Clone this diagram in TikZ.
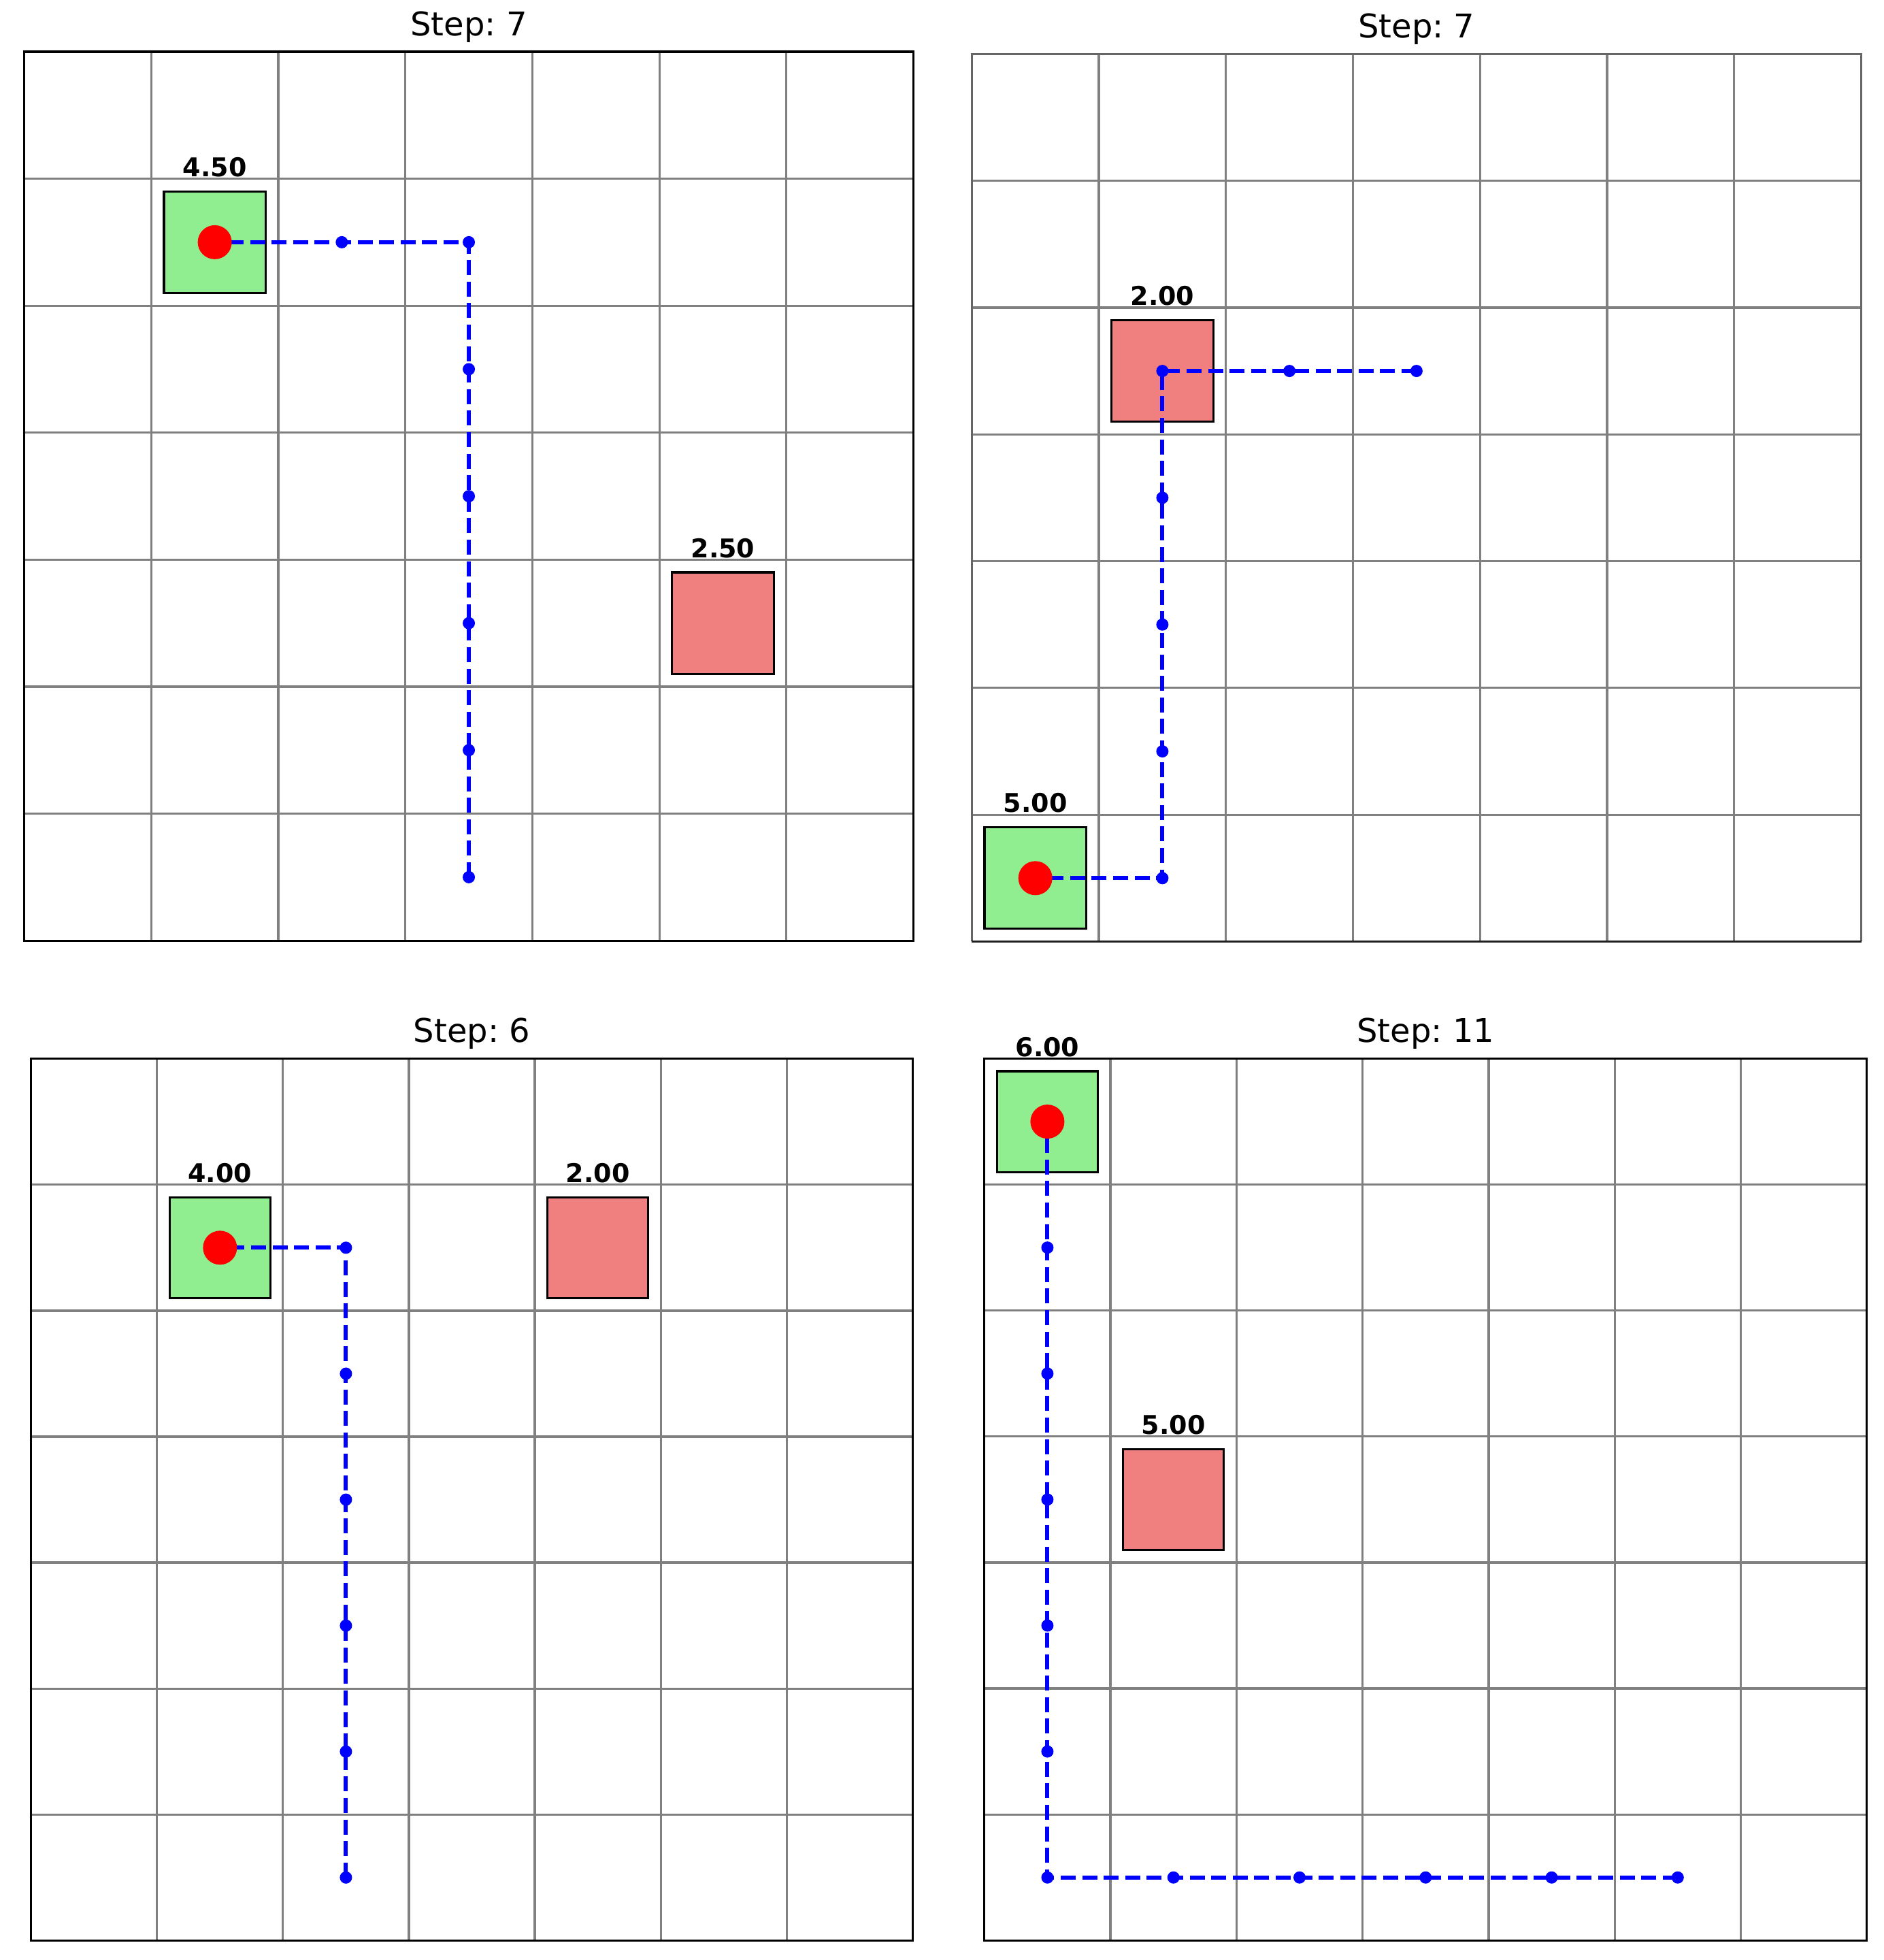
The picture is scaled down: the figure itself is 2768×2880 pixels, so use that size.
\documentclass[tikz,border=0pt]{standalone}
\usepackage{fontspec}
\setmainfont{DejaVu Sans}
\frenchspacing
\definecolor{lgreen}{HTML}{90EE90}
\definecolor{lcoral}{HTML}{F08080}
\definecolor{gridgray}{HTML}{808080}
\definecolor{framegray}{HTML}{666666}
\tikzset{
  gridline/.style={draw=gridgray, line width=3.2pt},
  frameline/.style={draw=black, line width=3.2pt},
  greenbox/.style={rectangle, fill=lgreen, draw=black, line width=3.2pt, inner sep=0pt, outer sep=0pt},
  redbox/.style={rectangle, fill=lcoral, draw=black, line width=3.2pt, inner sep=0pt, outer sep=0pt},
  agentdot/.style={circle, fill=red, minimum size=50pt, inner sep=0pt},
  visit/.style={circle, fill=blue, minimum size=18pt, inner sep=0pt},
  route/.style={draw=blue, line width=6pt, dash pattern=on 22pt off 9.6pt},
  steptitle/.style={font=\frenchspacing\fontsize{48}{58}\selectfont, inner sep=0pt, anchor=base},
  vallabel/.style={font=\bfseries\fontsize{38}{46}\selectfont, inner sep=0pt, anchor=base},
}
\begin{document}
\begin{tikzpicture}[x=1pt, y=-1pt]
\fill[white] (0,0) rectangle (2768,2880);
\useasboundingbox (0,0) rectangle (2768,2880);

% ---------------- Panel 1 (top left) ----------------
\begin{scope}[shift={(35.6,76)}, x=186.7pt, y=-186.6pt]
  \foreach \i in {1,...,6} {\draw[gridline] (\i,0) -- (\i,7); \draw[gridline] (0,\i) -- (7,\i);}
  \draw[frameline] (0,0) rectangle (7,7);
  \node[steptitle] (t1) at ([yshift=24pt]3.5,0) {Step: 7};
  \node[greenbox, minimum width=149.4pt, minimum height=149.3pt] (g1) at (1.5,1.5) {};
  \node[vallabel] (gl1) at ([yshift=22pt]g1.north) {4.50};
  \node[redbox, minimum width=149.4pt, minimum height=149.3pt] (r1) at (5.5,4.5) {};
  \node[vallabel] (rl1) at ([yshift=22pt]r1.north) {2.50};
  \node[visit] (a1v1) at (3.5,6.5) {};
  \node[visit] (a1v2) at (3.5,5.5) {};
  \node[visit] (a1v3) at (3.5,4.5) {};
  \node[visit] (a1v4) at (3.5,3.5) {};
  \node[visit] (a1v5) at (3.5,2.5) {};
  \node[visit] (a1v6) at (3.5,1.5) {};
  \node[visit] (a1v7) at (2.5,1.5) {};
  \draw[route] (a1v1.center) -- (a1v2.center) -- (a1v3.center) -- (a1v4.center) -- (a1v5.center) -- (a1v6.center) -- (a1v7.center) -- (g1.center);
  \node[agentdot] (ag1) at (g1.center) {};
\end{scope}

% ---------------- Panel 2 (top right) ----------------
\begin{scope}[shift={(1428.3,79.3)}, x=186.74pt, y=-186.31pt]
  \foreach \i in {1,...,6} {\draw[gridline] (\i,0) -- (\i,7); \draw[gridline] (0,\i) -- (7,\i);}
  \draw[frameline, draw=framegray] (0,7) -- (0,0) -- (7,0) -- (7,7);
  \draw[frameline, draw=black!88] (0,7) -- (7,7);
  \node[steptitle] (t2) at ([yshift=24pt]3.5,0) {Step: 7};
  \node[redbox, minimum width=149.4pt, minimum height=149.0pt] (r2) at (1.5,2.5) {};
  \node[vallabel] (rl2) at ([yshift=22pt]r2.north) {2.00};
  \node[greenbox, minimum width=149.4pt, minimum height=149.0pt] (g2) at (0.5,6.5) {};
  \node[vallabel] (gl2) at ([yshift=22pt]g2.north) {5.00};
  \node[visit] (a2v1) at (3.5,2.5) {};
  \node[visit] (a2v2) at (2.5,2.5) {};
  \node[visit] (a2v3) at (1.5,2.5) {};
  \node[visit] (a2v4) at (1.5,3.5) {};
  \node[visit] (a2v5) at (1.5,4.5) {};
  \node[visit] (a2v6) at (1.5,5.5) {};
  \node[visit] (a2v7) at (1.5,6.5) {};
  \draw[route] (a2v1.center) -- (a2v2.center) -- (a2v3.center) -- (a2v4.center) -- (a2v5.center) -- (a2v6.center) -- (a2v7.center) -- (g2.center);
  \node[agentdot] (ag2) at (g2.center) {};
\end{scope}

% ---------------- Panel 3 (bottom left) ----------------
\begin{scope}[shift={(45.7,1555.7)}, x=185.09pt, y=-185.09pt]
  \foreach \i in {1,...,6} {\draw[gridline] (\i,0) -- (\i,7); \draw[gridline] (0,\i) -- (7,\i);}
  \draw[frameline] (0,0) rectangle (7,7);
  \node[steptitle] (t3) at ([yshift=24pt]3.5,0) {Step: 6};
  \node[greenbox, minimum width=148.1pt, minimum height=148.1pt] (g3) at (1.5,1.5) {};
  \node[vallabel] (gl3) at ([yshift=22pt]g3.north) {4.00};
  \node[redbox, minimum width=148.1pt, minimum height=148.1pt] (r3) at (4.5,1.5) {};
  \node[vallabel] (rl3) at ([yshift=22pt]r3.north) {2.00};
  \node[visit] (a3v1) at (2.5,6.5) {};
  \node[visit] (a3v2) at (2.5,5.5) {};
  \node[visit] (a3v3) at (2.5,4.5) {};
  \node[visit] (a3v4) at (2.5,3.5) {};
  \node[visit] (a3v5) at (2.5,2.5) {};
  \node[visit] (a3v6) at (2.5,1.5) {};
  \draw[route] (a3v1.center) -- (a3v2.center) -- (a3v3.center) -- (a3v4.center) -- (a3v5.center) -- (a3v6.center) -- (g3.center);
  \node[agentdot] (ag3) at (g3.center) {};
\end{scope}

% ---------------- Panel 4 (bottom right) ----------------
\begin{scope}[shift={(1446.8,1555.5)}, x=185.27pt, y=-185.11pt]
  \foreach \i in {1,...,6} {\draw[gridline] (\i,0) -- (\i,7); \draw[gridline] (0,\i) -- (7,\i);}
  \draw[frameline] (0,0) rectangle (7,7);
  \node[steptitle] (t4) at ([yshift=24pt]3.5,0) {Step: 11};
  \node[greenbox, minimum width=148.2pt, minimum height=148.1pt] (g4) at (0.5,0.5) {};
  \node[vallabel] (gl4) at ([yshift=22pt]g4.north) {6.00};
  \node[redbox, minimum width=148.2pt, minimum height=148.1pt] (r4) at (1.5,3.5) {};
  \node[vallabel] (rl4) at ([yshift=22pt]r4.north) {5.00};
  \node[visit] (a4v1) at (5.5,6.5) {};
  \node[visit] (a4v2) at (4.5,6.5) {};
  \node[visit] (a4v3) at (3.5,6.5) {};
  \node[visit] (a4v4) at (2.5,6.5) {};
  \node[visit] (a4v5) at (1.5,6.5) {};
  \node[visit] (a4v6) at (0.5,6.5) {};
  \node[visit] (a4v7) at (0.5,5.5) {};
  \node[visit] (a4v8) at (0.5,4.5) {};
  \node[visit] (a4v9) at (0.5,3.5) {};
  \node[visit] (a4v10) at (0.5,2.5) {};
  \node[visit] (a4v11) at (0.5,1.5) {};
  \draw[route] (a4v1.center) -- (a4v2.center) -- (a4v3.center) -- (a4v4.center) -- (a4v5.center) -- (a4v6.center) -- (a4v7.center) -- (a4v8.center) -- (a4v9.center) -- (a4v10.center) -- (a4v11.center) -- (g4.center);
  \node[agentdot] (ag4) at (g4.center) {};
\end{scope}
\end{tikzpicture}
\end{document}
